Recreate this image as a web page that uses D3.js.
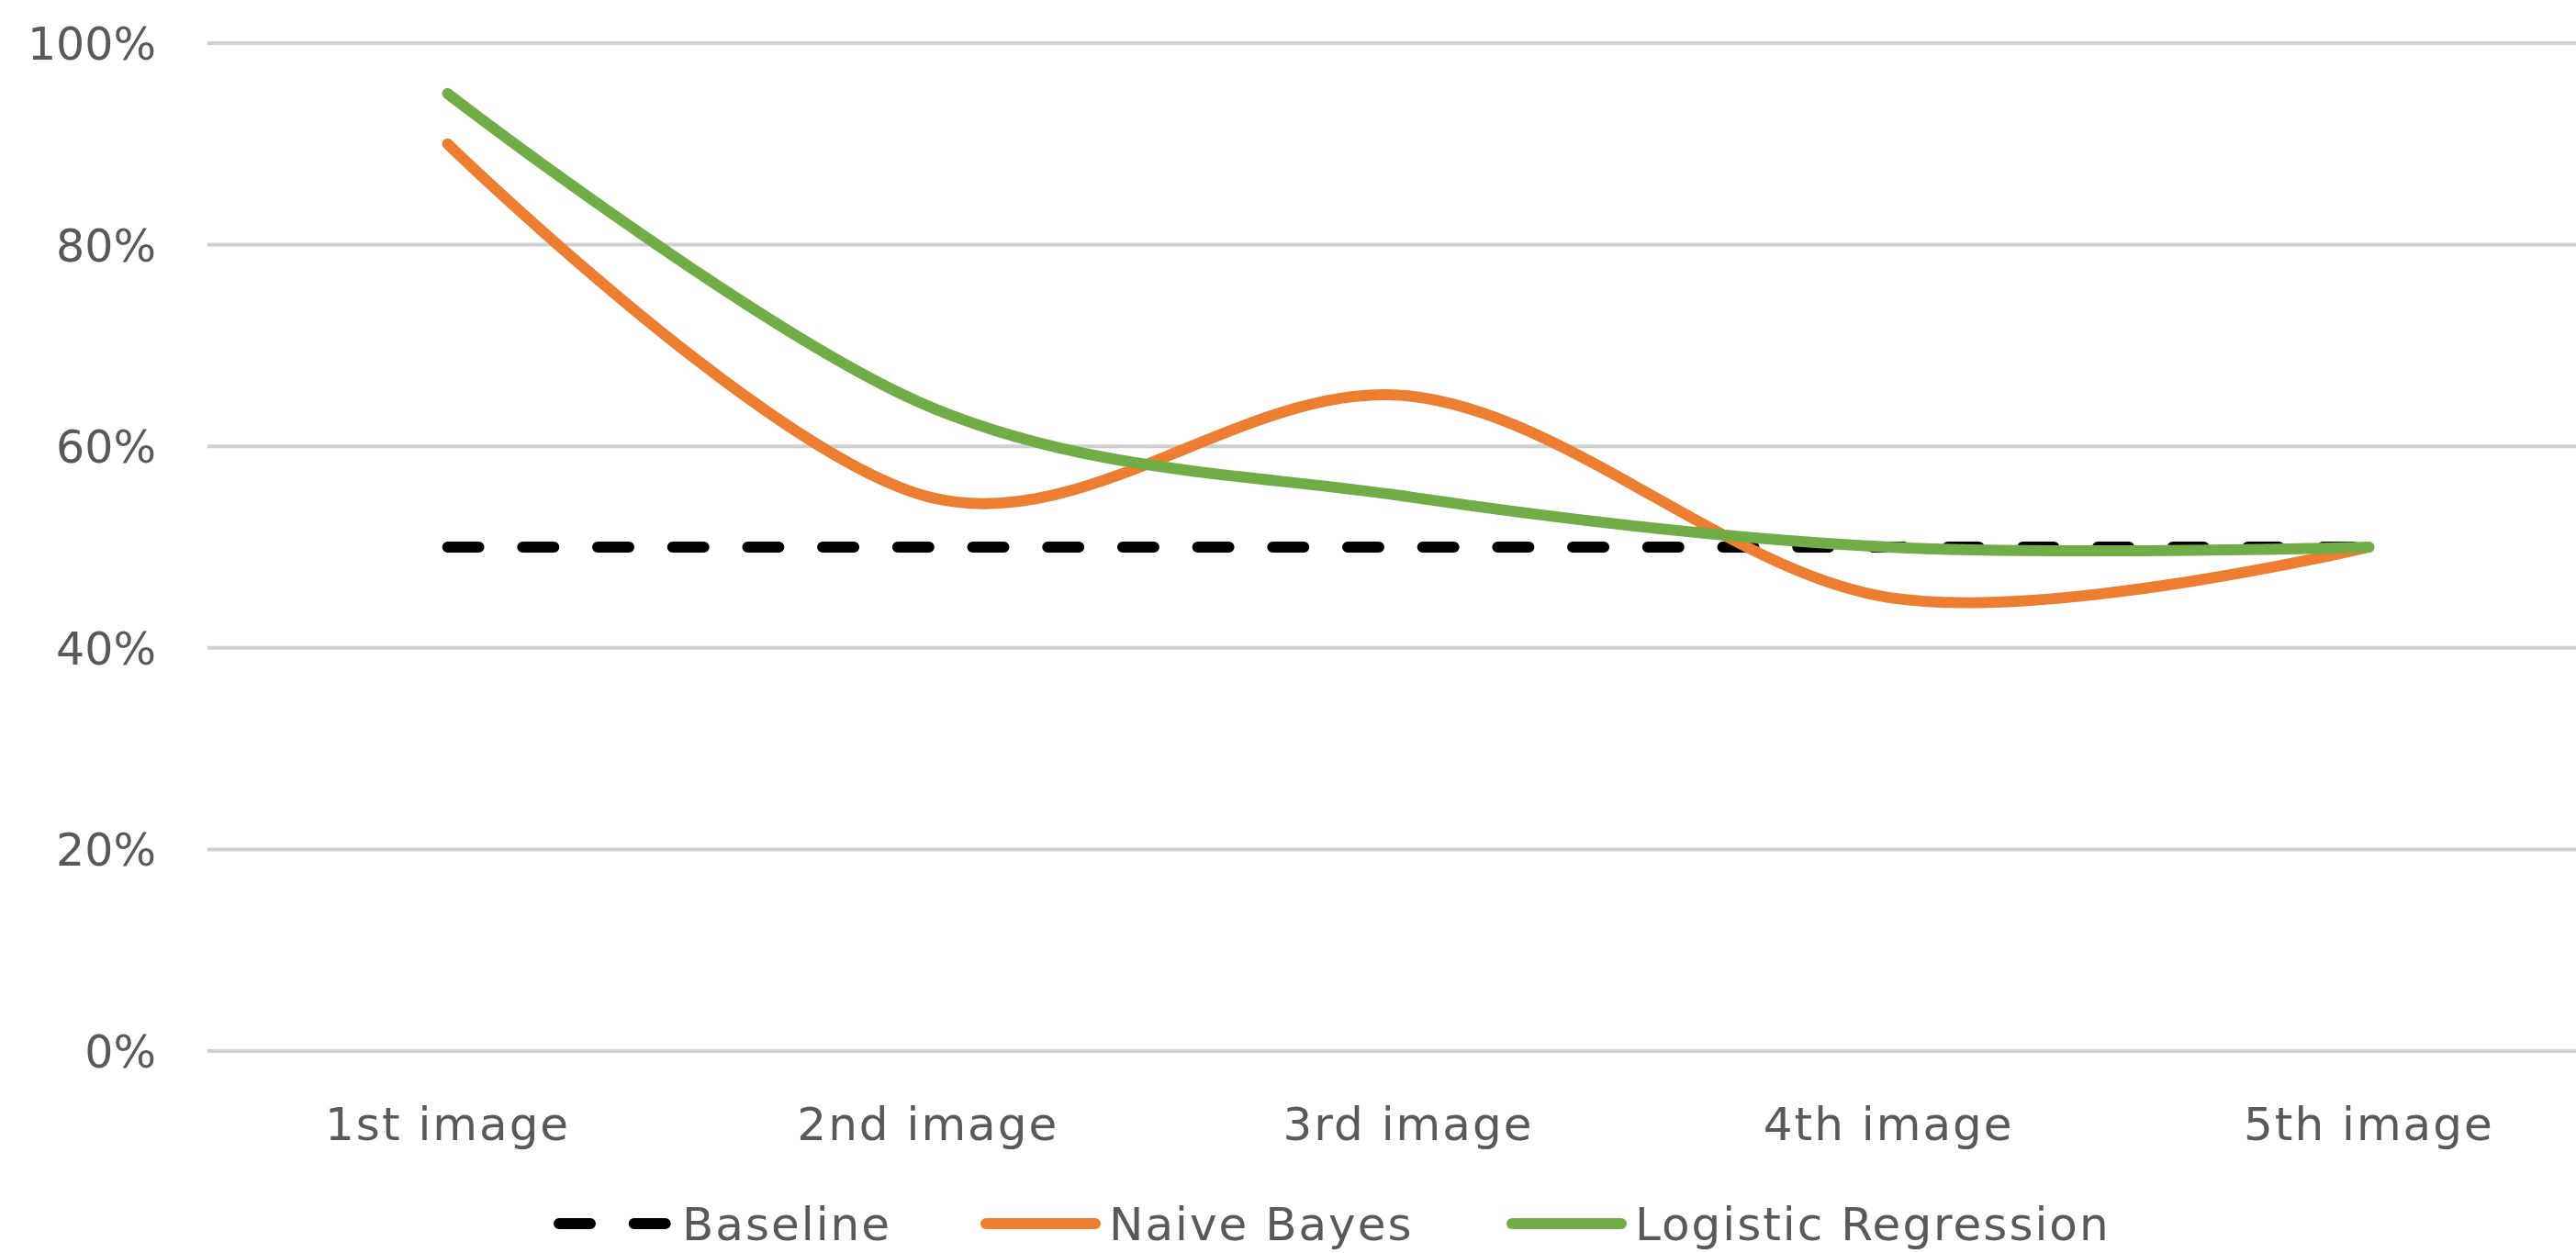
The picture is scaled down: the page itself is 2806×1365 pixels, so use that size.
<!DOCTYPE html>
<html>
<head>
<meta charset="utf-8">
<script src="https://cdn.jsdelivr.net/npm/d3@7"></script>
<style>
  html, body { margin: 0; padding: 0; background: #fff; overflow: hidden; }
  text { font-family: "Century Gothic", "DejaVu Sans", sans-serif; fill: #595959; }
</style>
</head>
<body>
<svg id="chart" width="2806" height="1365"></svg>
<script>
// Accuracy per image for each classifier
const categories = ["1st image", "2nd image", "3rd image", "4th image", "5th image"];
const baseline = [0.50, 0.50, 0.50, 0.50, 0.50];
const naiveBayes = [0.90, 0.55, 0.65, 0.45, 0.50];
const logisticRegression = [0.95, 0.64, 0.55, 0.50, 0.50];
const yTicks = [0, 0.2, 0.4, 0.6, 0.8, 1.0];
const seriesNames = ["Baseline", "Naive Bayes", "Logistic Regression"];

const series = [
  { name: seriesNames[0], values: baseline, color: "#000000", dashed: true, smooth: false },
  { name: seriesNames[1], values: naiveBayes, color: "#ED7D31", dashed: false, smooth: true },
  { name: seriesNames[2], values: logisticRegression, color: "#70AD47", dashed: false, smooth: true }
];

const svg = d3.select("#chart");
const plot = { left: 226, right: 2842, top: 47, bottom: 1145 };

const x = d3.scaleBand().domain(categories).range([plot.left, plot.right]).padding(0);
const xc = c => x(c) + x.bandwidth() / 2;
const y = d3.scaleLinear().domain([0, 1]).range([plot.bottom, plot.top]);

const fontSize = 50;
const spacing = 2;
const strokeW = 12;
const dash = "34 47.7";

// horizontal gridlines
svg.append("g")
  .selectAll("line")
  .data(yTicks)
  .join("line")
  .attr("x1", plot.left).attr("x2", plot.right)
  .attr("y1", d => y(d)).attr("y2", d => y(d))
  .attr("stroke", "#d0d0d0")
  .attr("stroke-width", 4);

// y axis labels
svg.append("g")
  .selectAll("text")
  .data(yTicks)
  .join("text")
  .attr("x", 170)
  .attr("y", d => y(d) + 18)
  .attr("text-anchor", "end")
  .attr("font-size", 49)
  .text(d3.format(".0%"));

// x axis labels
svg.append("g")
  .selectAll("text")
  .data(categories)
  .join("text")
  .attr("x", d => xc(d))
  .attr("y", 1242)
  .attr("text-anchor", "middle")
  .attr("font-size", fontSize)
  .attr("letter-spacing", spacing)
  .text(d => d);

// series lines
const lineSmooth = d3.line()
  .x((d, i) => xc(categories[i]))
  .y(d => y(d))
  .curve(d3.curveCardinal.tension(0));
const lineStraight = d3.line()
  .x((d, i) => xc(categories[i]))
  .y(d => y(d));

svg.append("g")
  .selectAll("path")
  .data(series)
  .join("path")
  .attr("d", s => (s.smooth ? lineSmooth : lineStraight)(s.values))
  .attr("fill", "none")
  .attr("stroke", s => s.color)
  .attr("stroke-width", strokeW)
  .attr("stroke-linecap", "round")
  .attr("stroke-linejoin", "round")
  .attr("stroke-dasharray", s => s.dashed ? dash : null);

// legend
const legendY = 1333;
const sampleLen = 131;
const legendX = [603, 1068, 1641];
const legend = svg.append("g");
series.forEach((s, i) => {
  const lx = legendX[i];
  legend.append("line")
    .attr("x1", lx + 6).attr("x2", lx + sampleLen - 6)
    .attr("y1", legendY).attr("y2", legendY)
    .attr("stroke", s.color)
    .attr("stroke-width", strokeW)
    .attr("stroke-linecap", "round")
    .attr("stroke-dasharray", s.dashed ? dash : null);
  legend.append("text")
    .attr("x", lx + sampleLen + 9)
    .attr("y", legendY + 18)
    .attr("font-size", fontSize)
    .attr("letter-spacing", spacing)
    .text(s.name);
});
</script>
</body>
</html>
